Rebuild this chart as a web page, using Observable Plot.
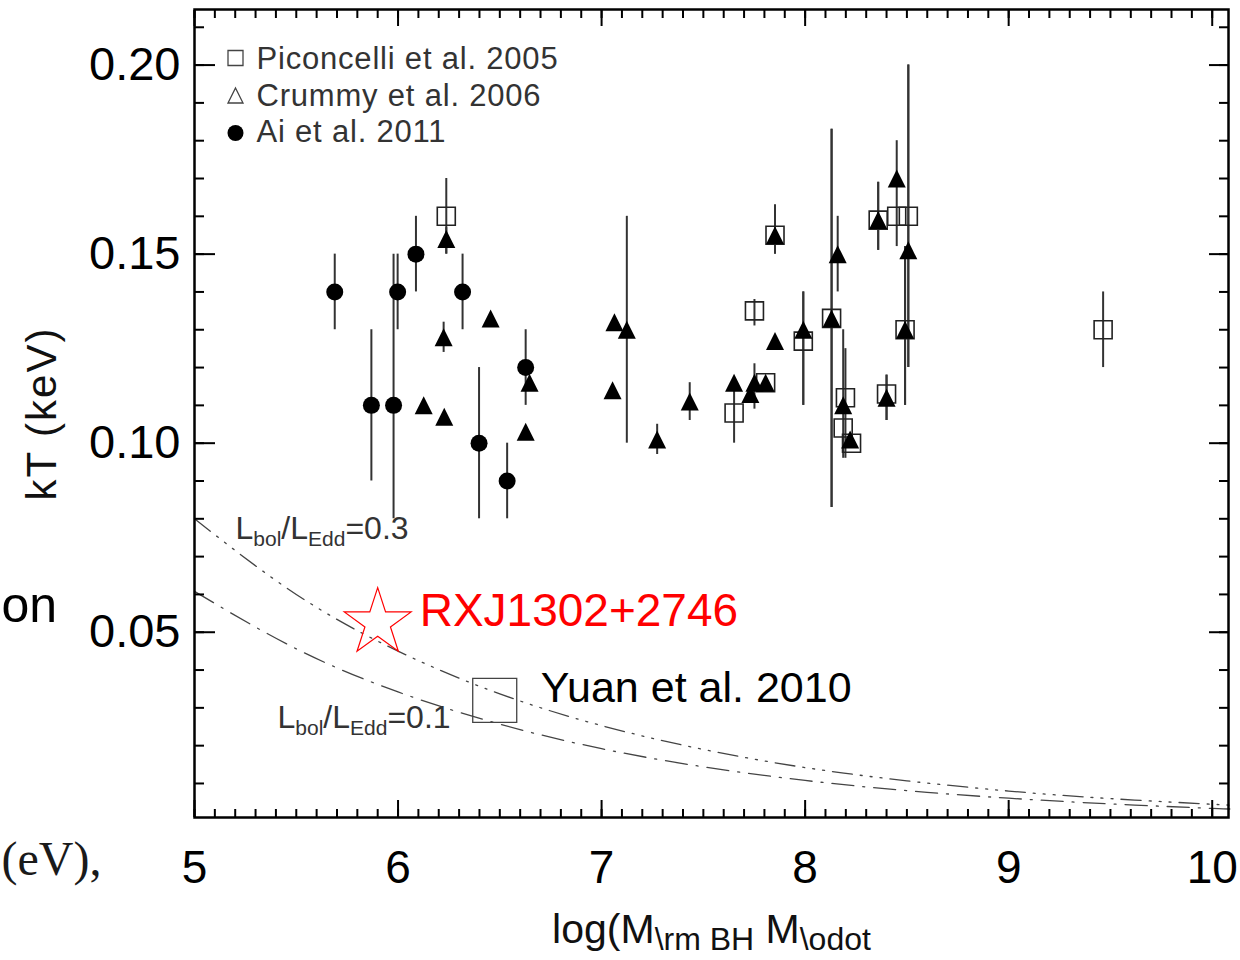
<!DOCTYPE html>
<html><head><meta charset="utf-8">
<script src="https://cdn.jsdelivr.net/npm/d3@7"></script>
<script src="https://cdn.jsdelivr.net/npm/@observablehq/plot@0.6"></script>
<style>html,body{margin:0;padding:0;background:#fff;} #chart{width:1240px;height:960px;overflow:hidden;} text{white-space:pre;}</style>
</head><body><div id="chart"></div>
<script>
// ---------- data ----------
// Piconcelli et al. 2005 (open squares)
const piconX  = [6.237, 7.651, 7.751, 7.806, 7.852, 7.991, 8.130, 8.198, 8.187, 8.228, 8.400, 8.359, 8.450, 8.507, 8.491, 9.464];
const piconY  = [0.160, 0.108, 0.135, 0.116, 0.155, 0.127, 0.133, 0.112, 0.104, 0.100, 0.113, 0.159, 0.160, 0.160, 0.130, 0.130];
const piconLo = [0.150, 0.100, 0.131, null,  0.150, 0.110, 0.083, 0.096, null,  null,  0.106, 0.151, null,  0.120, 0.110, 0.120];
const piconHi = [0.170, 0.116, 0.138, null,  0.163, 0.140, 0.183, 0.125, null,  null,  0.118, 0.169, null,  0.200, 0.152, 0.140];
// Crummy et al. 2006 (filled triangles)
const crumX  = [6.237, 6.224, 6.455, 6.126, 6.227, 6.646, 6.627, 7.063, 7.124, 7.054, 7.273, 7.433, 7.651, 7.731, 7.751, 7.806, 7.852, 7.852, 7.991, 8.130, 8.160, 8.187, 8.221, 8.400, 8.359, 8.450, 8.507, 8.491];
const crumY  = [0.154, 0.128, 0.133, 0.110, 0.107, 0.116, 0.103, 0.132, 0.130, 0.114, 0.101, 0.111, 0.116, 0.113, 0.116, 0.116, 0.155, 0.127, 0.130, 0.133, 0.150, 0.110, 0.101, 0.112, 0.159, 0.170, 0.151, 0.130];
const crumLo = [0.150, 0.124, null,  null,  null,  null,  null,  null,  0.100, null,  0.097, 0.106, null,  null,  0.109, null,  0.150, null,  0.110, 0.083, 0.140, 0.096, null,  0.106, 0.151, 0.152, 0.120, 0.110];
const crumHi = [0.157, 0.132, null,  null,  null,  null,  null,  null,  0.160, null,  0.105, 0.116, null,  null,  0.121, null,  0.163, null,  0.140, 0.183, 0.160, 0.130, null,  0.118, 0.169, 0.180, 0.200, 0.152];
// Ai et al. 2011 (filled circles)
const aiX  = [5.689, 5.869, 5.978, 5.998, 6.088, 6.317, 6.398, 6.536, 6.627];
const aiY  = [0.140, 0.110, 0.110, 0.140, 0.150, 0.140, 0.100, 0.090, 0.120];
const aiLo = [0.130, 0.090, 0.080, 0.130, 0.140, 0.130, 0.080, 0.080, 0.110];
const aiHi = [0.150, 0.130, 0.150, 0.150, 0.160, 0.150, 0.120, 0.100, 0.130];
// Lbol/LEdd curves
const curveX = [5, 5.5, 6, 6.5, 7, 7.5, 8, 8.5, 9, 9.5, 10, 10.08];
const edd03  = [0.0800, 0.0600, 0.0450, 0.0337, 0.0253, 0.0190, 0.0142, 0.0107, 0.0080, 0.0060, 0.0045, 0.0043];
const edd01  = [0.0608, 0.0456, 0.0342, 0.0257, 0.0192, 0.0144, 0.0108, 0.0081, 0.0061, 0.0046, 0.0034, 0.0033];
// single objects
const rxjX = [5.90],  rxjY = [0.0525], rxjName = "RXJ1302+2746";
const yuanX = [6.475], yuanY = [0.032], yuanName = "Yuan et al. 2010";
// texts / ticks
const legendLabels = ["Piconcelli et al. 2005", "Crummy et al. 2006", "Ai et al. 2011"];
const xTicks = [5, 6, 7, 8, 9, 10];
const yTicks = [0.05, 0.10, 0.15, 0.20];
const xLabel = "log(M\\rm BH M\\odot";
const yLabel = "kT (keV)";
const curveLabel03 = "L_bol/L_Edd=0.3";
const curveLabel01 = "L_bol/L_Edd=0.1";

// ---------- build ----------
const rows = (X, Y, Lo, Hi) => X.map((x, i) => ({x, y: Y[i], lo: Lo ? Lo[i] : null, hi: Hi ? Hi[i] : null}));
const picon = rows(piconX, piconY, piconLo, piconHi);
const crum = rows(crumX, crumY, crumLo, crumHi);
const ai = rows(aiX, aiY, aiLo, aiHi);
const c03 = curveX.map((x, i) => ({x, y: edd03[i]}));
const c01 = curveX.map((x, i) => ({x, y: edd01[i]}));
const rxj = rxjX.map((x, i) => ({x, y: rxjY[i]}));
const yuan = yuanX.map((x, i) => ({x, y: yuanY[i]}));
const errs = [...picon, ...crum, ...ai].filter(d => d.lo != null);

const triUp = {draw(ctx, size) { const h = Math.sqrt(size / Math.PI); ctx.moveTo(0, -h); ctx.lineTo(h, h); ctx.lineTo(-h, h); ctx.closePath(); }};
const sq = {draw(ctx, size) { const h = Math.sqrt(size / Math.PI); ctx.rect(-h, -h, 2 * h, 2 * h); }};

const xMinor = d3.ticks(5, 10.08, 50);
const yMinor = d3.ticks(0.001, 0.2147, 21);
const blank = () => "";
const FONT = "Liberation Sans, Arial, sans-serif";

const legendSyms = [
  {symbol: sq, fill: "none", stroke: "#444", strokeWidth: 1.3, r: 7.5},
  {symbol: triUp, fill: "none", stroke: "#444", strokeWidth: 1.3, r: 7.5},
  {symbol: "circle", fill: "black", r: 8}
];
const legendMarks = legendLabels.flatMap((lab, i) => [
  Plot.dot([lab], {frameAnchor: "top-left", dx: 41, dy: 48.5 + i * 37.5, ...legendSyms[i]}),
  Plot.text([lab], {text: d => d, frameAnchor: "top-left", dx: 62, dy: 59.5 + i * 36.7, lineAnchor: "bottom", textAnchor: "start", fontSize: 31, fill: "#333"})
]);

const chart = Plot.plot({
  width: 1240, height: 960,
  marginLeft: 194, marginRight: 12, marginTop: 9, marginBottom: 143,
  x: {domain: [5, 10.08], axis: null},
  y: {domain: [0.001, 0.2147], axis: null},
  style: {fontFamily: FONT, background: "white", overflow: "visible"},
  marks: [
    // curves
    Plot.line(c03, {x: "x", y: "y", curve: "natural", stroke: "#444", strokeWidth: 1.3, strokeDasharray: "20,8,2,8,2,8,2,8"}),
    Plot.line(c01, {x: "x", y: "y", curve: "natural", stroke: "#444", strokeWidth: 1.3, strokeDasharray: "22,9,2,9"}),
    // error bars
    Plot.ruleX(errs, {x: "x", y1: "lo", y2: "hi", stroke: "#333", strokeWidth: 2}),
    // points
    Plot.dot(picon, {x: "x", y: "y", symbol: sq, r: 9, fill: "none", stroke: "#222", strokeWidth: 1.6}),
    Plot.dot(crum, {x: "x", y: "y", symbol: triUp, r: 9, fill: "black"}),
    Plot.dot(ai, {x: "x", y: "y", r: 8.5, fill: "black"}),
    // RXJ and Yuan
    Plot.dot(rxj, {x: "x", y: "y", symbol: "star", r: 21, fill: "none", stroke: "red", strokeWidth: 1.2}),
    Plot.text(rxj, {x: "x", y: "y", text: () => rxjName, dx: 42, dy: 3, lineAnchor: "bottom", textAnchor: "start", fill: "red", fontSize: 46}),
    Plot.dot(yuan, {x: "x", y: "y", symbol: sq, r: 22, fill: "none", stroke: "#444", strokeWidth: 1.3}),
    Plot.text(yuan, {x: "x", y: "y", text: () => yuanName, dx: 46, dy: 2, lineAnchor: "bottom", textAnchor: "start", fill: "black", fontSize: 43}),
    // curve labels
    Plot.text([curveLabel03], {text: d => d, frameAnchor: "top-left", dx: 41, dy: 529, lineAnchor: "bottom", textAnchor: "start", fontSize: 32, fill: "#333"}),
    Plot.text([curveLabel01], {text: d => d, frameAnchor: "top-left", dx: 83, dy: 718, lineAnchor: "bottom", textAnchor: "start", fontSize: 32, fill: "#333"}),
    // legend
    ...legendMarks,
    // frame & ticks
    Plot.frame({stroke: "black", strokeWidth: 2.5}),
    Plot.axisX(xMinor, {anchor: "bottom", tickSize: -8, tickFormat: blank, strokeWidth: 2, label: null}),
    Plot.axisX(xTicks, {anchor: "bottom", tickSize: -17, tickFormat: blank, strokeWidth: 2, label: null}),
    Plot.axisX(xMinor, {anchor: "top", tickSize: -8, tickFormat: blank, strokeWidth: 2, label: null}),
    Plot.axisX(xTicks, {anchor: "top", tickSize: -16, tickFormat: blank, strokeWidth: 2, label: null}),
    Plot.axisY(yMinor, {anchor: "left", tickSize: -10, tickFormat: blank, strokeWidth: 2, label: null}),
    Plot.axisY(yTicks, {anchor: "left", tickSize: -21, tickFormat: blank, strokeWidth: 2, label: null}),
    Plot.axisY(yMinor, {anchor: "right", tickSize: -10, tickFormat: blank, strokeWidth: 2, label: null}),
    Plot.axisY(yTicks, {anchor: "right", tickSize: -20, tickFormat: blank, strokeWidth: 2, label: null}),
    // tick labels
    Plot.axisX(xTicks, {anchor: "bottom", tickSize: 0, tickPadding: 33, fontSize: 46, tickFormat: d => String(d), label: null}),
    Plot.axisY(yTicks, {anchor: "left", tickSize: 0, tickPadding: 14, fontSize: 47, tickFormat: d3.format(".2f"), label: null}),
    // axis titles
    Plot.text([xLabel], {text: d => d, frameAnchor: "bottom", dy: 125, lineAnchor: "bottom", textAnchor: "middle", fontSize: 41, fill: "#111"}),
    Plot.text([yLabel], {text: d => d, frameAnchor: "left", dx: -152, rotate: -90, textAnchor: "middle", lineAnchor: "middle", fontSize: 42, fill: "#111"}),
    // fragments of surrounding page text
    Plot.text(["on"], {text: d => d, frameAnchor: "top-left", dx: -193, dy: 612, lineAnchor: "bottom", textAnchor: "start", fontSize: 50, fill: "black"}),
    Plot.text(["(eV),"], {text: d => d, frameAnchor: "top-left", dx: -193, dy: 865, lineAnchor: "bottom", textAnchor: "start", fontSize: 48, fontFamily: "Liberation Serif, Times New Roman, serif", fill: "#1a1a1a"})
  ]
});
document.getElementById("chart").append(chart);

// rich text (subscripts)
function rich(match, parts, subSize, shift) {
  d3.select(chart).selectAll("text").filter(function() { return this.textContent === match; }).each(function() {
    const t = d3.select(this);
    t.text(null);
    let down = false;
    for (const [s, sub] of parts) {
      const ts = t.append("tspan").text(s);
      if (sub && !down) { ts.attr("dy", shift); down = true; }
      else if (!sub && down) { ts.attr("dy", -shift); down = false; }
      if (sub) ts.attr("font-size", subSize);
    }
  });
}
rich(curveLabel03, [["L"], ["bol", 1], ["/L"], ["Edd", 1], ["=0.3"]], 21, 7);
rich(curveLabel01, [["L"], ["bol", 1], ["/L"], ["Edd", 1], ["=0.1"]], 21, 7);
rich(xLabel, [["log(M"], ["\\rm BH", 1], [" M"], ["\\odot", 1]], 32, 7);
d3.select(chart).selectAll("text").filter(function() { return this.textContent === yLabel; }).style("letter-spacing", "2px");
d3.select(chart).selectAll("text").filter(function() { return legendLabels.includes(this.textContent); }).style("letter-spacing", "0.8px");
</script>
</body></html>
